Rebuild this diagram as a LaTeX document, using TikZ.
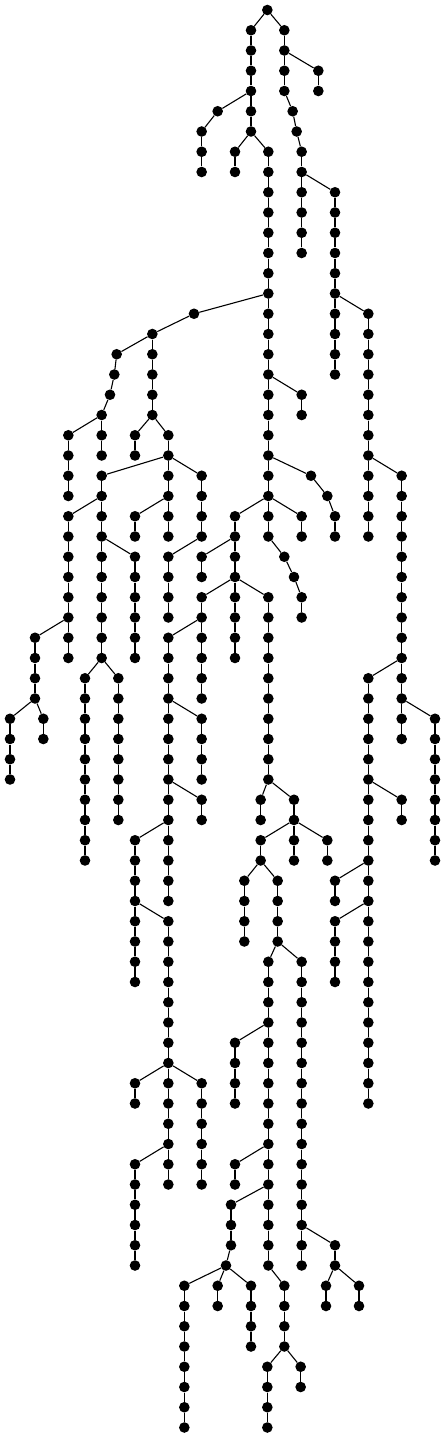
\documentclass[tikz,border=0pt]{standalone}
\usepackage{tikz}
\tikzset{
  dot/.style={circle,fill=black,draw=none,inner sep=0pt,minimum size=10.6pt},
  edge/.style={draw=black,line width=1.1pt}
}
\newcommand\mkchain[3]{%
  \foreach \ri in {#2,...,#3}{\node[dot] (n#1-\ri) at ({#1/3},{-10-20.25*\ri}) {};}%
  \ifnum#3>#2\relax
    \pgfmathtruncatemacro\cfirst{#2+1}%
    \foreach \ri in {\cfirst,...,#3}{\pgfmathtruncatemacro\rprev{\ri-1}\draw[edge] (n#1-\rprev) -- (n#1-\ri);}%
  \fi}
\newcommand\tbr[4]{\draw[edge] (n#1-#2) -- (n#3-#4);}
\begin{document}
\begin{tikzpicture}[x=1pt,y=1pt]
\useasboundingbox (0,0) rectangle (446,-1439);
% chains
\mkchain{802}{0}{0}
\mkchain{753}{1}{6}
\mkchain{853}{1}{4}
\mkchain{955}{3}{4}
\mkchain{878}{5}{5}
\mkchain{890}{6}{6}
\mkchain{905}{7}{12}
\mkchain{1005}{9}{18}
\mkchain{1105}{15}{26}
\mkchain{1205}{23}{36}
\mkchain{1105}{33}{54}
\mkchain{1305}{35}{42}
\mkchain{1205}{39}{40}
\mkchain{1005}{43}{44}
\mkchain{1005}{45}{48}
\mkchain{653}{5}{5}
\mkchain{605}{6}{8}
\mkchain{705}{7}{8}
\mkchain{805}{7}{26}
\mkchain{582}{15}{15}
\mkchain{457}{16}{20}
\mkchain{350}{17}{17}
\mkchain{343}{18}{18}
\mkchain{330}{19}{19}
\mkchain{305}{20}{22}
\mkchain{205}{21}{24}
\mkchain{405}{21}{22}
\mkchain{505}{21}{26}
\mkchain{305}{23}{32}
\mkchain{605}{23}{26}
\mkchain{205}{25}{32}
\mkchain{405}{25}{26}
\mkchain{705}{25}{32}
\mkchain{905}{25}{26}
\mkchain{905}{19}{20}
\mkchain{933}{23}{23}
\mkchain{982}{24}{24}
\mkchain{1005}{25}{26}
\mkchain{853}{27}{27}
\mkchain{882}{28}{28}
\mkchain{905}{29}{30}
\mkchain{405}{27}{32}
\mkchain{505}{27}{30}
\mkchain{605}{27}{28}
\mkchain{105}{31}{34}
\mkchain{30}{35}{38}
\mkchain{130}{35}{36}
\mkchain{255}{33}{42}
\mkchain{355}{33}{40}
\mkchain{605}{29}{34}
\mkchain{805}{29}{38}
\mkchain{505}{31}{44}
\mkchain{605}{35}{38}
\mkchain{605}{39}{40}
\mkchain{405}{41}{48}
\mkchain{505}{45}{58}
\mkchain{405}{53}{54}
\mkchain{605}{53}{58}
\mkchain{405}{57}{62}
\mkchain{782}{39}{40}
\mkchain{882}{39}{42}
\mkchain{782}{41}{42}
\mkchain{982}{41}{42}
\mkchain{733}{43}{46}
\mkchain{833}{43}{46}
\mkchain{805}{47}{62}
\mkchain{905}{47}{62}
\mkchain{705}{51}{54}
\mkchain{705}{57}{58}
\mkchain{693}{59}{61}
\mkchain{678}{62}{62}
\mkchain{553}{63}{70}
\mkchain{653}{63}{64}
\mkchain{753}{63}{66}
\mkchain{853}{63}{66}
\mkchain{802}{67}{70}
\mkchain{902}{67}{68}
\mkchain{1005}{61}{62}
\mkchain{978}{63}{64}
\mkchain{1077}{63}{64}
% branch edges
\tbr{802}{0}{753}{1}
\tbr{802}{0}{853}{1}
\tbr{853}{2}{955}{3}
\tbr{853}{4}{878}{5}
\tbr{878}{5}{890}{6}
\tbr{890}{6}{905}{7}
\tbr{905}{8}{1005}{9}
\tbr{1005}{14}{1105}{15}
\tbr{1105}{22}{1205}{23}
\tbr{1205}{32}{1105}{33}
\tbr{1205}{34}{1305}{35}
\tbr{1105}{38}{1205}{39}
\tbr{1105}{42}{1005}{43}
\tbr{1105}{44}{1005}{45}
\tbr{753}{4}{653}{5}
\tbr{653}{5}{605}{6}
\tbr{753}{6}{705}{7}
\tbr{753}{6}{805}{7}
\tbr{805}{14}{582}{15}
\tbr{582}{15}{457}{16}
\tbr{457}{16}{350}{17}
\tbr{350}{17}{343}{18}
\tbr{343}{18}{330}{19}
\tbr{330}{19}{305}{20}
\tbr{305}{20}{205}{21}
\tbr{457}{20}{405}{21}
\tbr{457}{20}{505}{21}
\tbr{805}{18}{905}{19}
\tbr{805}{22}{933}{23}
\tbr{933}{23}{982}{24}
\tbr{982}{24}{1005}{25}
\tbr{505}{22}{305}{23}
\tbr{505}{22}{605}{23}
\tbr{305}{24}{205}{25}
\tbr{505}{24}{405}{25}
\tbr{805}{24}{705}{25}
\tbr{805}{24}{905}{25}
\tbr{805}{26}{853}{27}
\tbr{853}{27}{882}{28}
\tbr{882}{28}{905}{29}
\tbr{305}{26}{405}{27}
\tbr{605}{26}{505}{27}
\tbr{705}{26}{605}{27}
\tbr{705}{28}{605}{29}
\tbr{705}{28}{805}{29}
\tbr{205}{30}{105}{31}
\tbr{605}{30}{505}{31}
\tbr{305}{32}{255}{33}
\tbr{305}{32}{355}{33}
\tbr{105}{34}{30}{35}
\tbr{105}{34}{130}{35}
\tbr{505}{34}{605}{35}
\tbr{505}{38}{605}{39}
\tbr{505}{40}{405}{41}
\tbr{805}{38}{782}{39}
\tbr{805}{38}{882}{39}
\tbr{882}{40}{782}{41}
\tbr{882}{40}{982}{41}
\tbr{782}{42}{733}{43}
\tbr{782}{42}{833}{43}
\tbr{405}{44}{505}{45}
\tbr{833}{46}{805}{47}
\tbr{833}{46}{905}{47}
\tbr{805}{50}{705}{51}
\tbr{505}{52}{405}{53}
\tbr{505}{52}{605}{53}
\tbr{505}{56}{405}{57}
\tbr{805}{56}{705}{57}
\tbr{805}{58}{693}{59}
\tbr{693}{61}{678}{62}
\tbr{678}{62}{553}{63}
\tbr{678}{62}{653}{63}
\tbr{678}{62}{753}{63}
\tbr{805}{62}{853}{63}
\tbr{853}{66}{802}{67}
\tbr{853}{66}{902}{67}
\tbr{905}{60}{1005}{61}
\tbr{1005}{62}{978}{63}
\tbr{1005}{62}{1077}{63}
\end{tikzpicture}
\end{document}
